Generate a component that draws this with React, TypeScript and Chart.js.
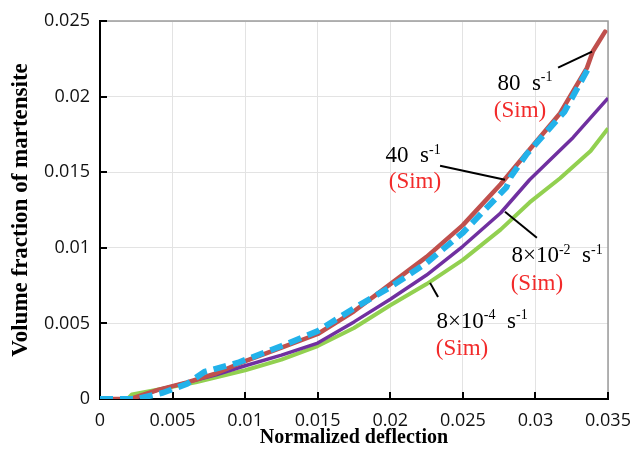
import React, { useEffect, useRef } from "react";
import { Chart, registerables } from "chart.js";

Chart.register(...registerables);

// 80 s^-1 (Sim)
const xRed = [0, 0.0021, 0.004, 0.006, 0.008, 0.01, 0.0125, 0.015, 0.0175, 0.02, 0.0225, 0.025, 0.0276, 0.0296, 0.0317, 0.03355, 0.03396, 0.0348];
const yRed = [0, 0, 0.0006, 0.0011, 0.0017, 0.0025, 0.0034, 0.0043, 0.0058, 0.0076, 0.0094, 0.0115, 0.0142, 0.0165, 0.0189, 0.0219, 0.023, 0.0243];

// 40 s^-1 (Sim)
const xBlue = [0, 0.0025, 0.0043, 0.006, 0.0072, 0.0095, 0.0125, 0.015, 0.0175, 0.02, 0.0225, 0.025, 0.028, 0.0283, 0.0294, 0.032, 0.0336];
const yBlue = [0, 0, 0.0004, 0.001, 0.0018, 0.0024, 0.0035, 0.0045, 0.006, 0.0074, 0.009, 0.011, 0.014, 0.0147, 0.0162, 0.019, 0.0218];

// 8x10^-2 s^-1 (Sim)
const xPurple = [0, 0.0023, 0.004, 0.006, 0.008, 0.01, 0.0125, 0.015, 0.0175, 0.02, 0.0225, 0.025, 0.0276, 0.0296, 0.0326, 0.035];
const yPurple = [0, 0, 0.0006, 0.0011, 0.0016, 0.0022, 0.0029, 0.0037, 0.0051, 0.0066, 0.0082, 0.0101, 0.0123, 0.0145, 0.0173, 0.0199];

// 8x10^-4 s^-1 (Sim)
const xGreen = [0, 0.0019, 0.0022, 0.0066, 0.01, 0.0125, 0.015, 0.0175, 0.02, 0.0225, 0.025, 0.0276, 0.0296, 0.0317, 0.0338, 0.035];
const yGreen = [0, 0, 0.0003, 0.0011, 0.0019, 0.0026, 0.0035, 0.0047, 0.0062, 0.0076, 0.0092, 0.0112, 0.013, 0.0146, 0.0164, 0.0179];

const xTitle = "Normalized deflection";
const yTitle = "Volume fraction of martensite";
const simText = "(Sim)";

type Seg = [string, boolean];
// label text segments (text, superscript?)
const labelTexts: Seg[][] = [
  [["80  s", false], ["-1", true]],
  [["40  s", false], ["-1", true]],
  [["8×10", false], ["-2", true], ["  s", false], ["-1", true]],
  [["8×10", false], ["-4", true], ["  s", false], ["-1", true]],
];
// anchor points in data units: [labelX, labelY, simX, simY]
const labelAnchors = [
  [0.02928, 0.02093, 0.02894, 0.01914],
  [0.02157, 0.01616, 0.0217, 0.01444],
  [0.03149, 0.00954, 0.0301, 0.00768],
  [0.02632, 0.00523, 0.02494, 0.00344],
];
// leader lines in data units: [x1, y1, x2, y2]
const leaders = [
  [0.03156, 0.02192, 0.0339, 0.02298],
  [0.02343, 0.01543, 0.0279, 0.0145],
  [0.0279, 0.01238, 0.0301, 0.01066],
  [0.02274, 0.00768, 0.02329, 0.00675],
];

const zip = (xs: number[], ys: number[]) => xs.map((x, i) => ({ x, y: ys[i] }));

const SERIF = "'Liberation Serif', 'Times New Roman', serif";

function drawRich(ctx: CanvasRenderingContext2D, segs: Seg[], cx: number, cy: number, size: number) {
  const supSize = Math.round(size * 0.62);
  let total = 0;
  const widths = segs.map(([t, sup]) => {
    ctx.font = `${sup ? supSize : size}px ${SERIF}`;
    const w = ctx.measureText(t).width;
    total += w;
    return w;
  });
  let x = cx - total / 2;
  ctx.textBaseline = "alphabetic";
  ctx.textAlign = "left";
  const base = cy + size * 0.33;
  segs.forEach(([t, sup], i) => {
    ctx.font = `${sup ? supSize : size}px ${SERIF}`;
    ctx.fillText(t, x, sup ? base - size * 0.38 : base);
    x += widths[i];
  });
}

const decorPlugin = {
  id: "decor",
  beforeDatasetsDraw(chart: any) {
    const { ctx, chartArea: a, scales } = chart;
    const xs = scales.x;
    const ys = scales.y;
    ctx.save();
    ctx.strokeStyle = "#9c9c9c";
    ctx.lineWidth = 1.5;
    ctx.beginPath();
    ctx.moveTo(a.left, a.top);
    ctx.lineTo(a.right, a.top);
    ctx.lineTo(a.right, a.bottom);
    ctx.stroke();
    ctx.strokeStyle = "#000";
    ctx.lineWidth = 2;
    ctx.beginPath();
    xs.ticks.forEach((t: any) => {
      const px = Math.round(xs.getPixelForValue(t.value));
      ctx.moveTo(px, a.bottom);
      ctx.lineTo(px, a.bottom - 7);
    });
    ys.ticks.forEach((t: any) => {
      const py = Math.round(ys.getPixelForValue(t.value));
      ctx.moveTo(a.left, py);
      ctx.lineTo(a.left + 7, py);
    });
    ctx.stroke();
    ctx.restore();
  },
  afterDatasetsDraw(chart: any) {
    const { ctx, scales } = chart;
    const xs = scales.x;
    const ys = scales.y;
    ctx.save();
    ctx.strokeStyle = "#000";
    ctx.lineWidth = 2;
    leaders.forEach(([x1, y1, x2, y2]) => {
      ctx.beginPath();
      ctx.moveTo(xs.getPixelForValue(x1), ys.getPixelForValue(y1));
      ctx.lineTo(xs.getPixelForValue(x2), ys.getPixelForValue(y2));
      ctx.stroke();
    });
    labelTexts.forEach((segs, i) => {
      const [lx, ly, sx, sy] = labelAnchors[i];
      ctx.fillStyle = "#000";
      drawRich(ctx, segs, xs.getPixelForValue(lx), ys.getPixelForValue(ly), 23);
      ctx.fillStyle = "#f22a2a";
      drawRich(ctx, [[simText, false]], xs.getPixelForValue(sx), ys.getPixelForValue(sy), 23);
    });
    ctx.restore();
  },
};

export default function App() {
  const ref = useRef<HTMLCanvasElement | null>(null);
  useEffect(() => {
    if (!ref.current) return;
    const fmt = (v: any) => Number(Number(v).toFixed(3)).toString();
    const chart = new Chart(ref.current, {
      type: "line",
      data: {
        datasets: [
          {
            label: "40 s-1",
            data: zip(xBlue, yBlue),
            borderColor: "#22b2ea",
            borderWidth: 6,
            borderDash: [13, 7],
            pointRadius: 0,
            tension: 0,
            order: 0,
          },
          {
            label: "80 s-1",
            data: zip(xRed, yRed),
            borderColor: "#c0504d",
            borderWidth: 4.5,
            borderJoinStyle: "round",
            borderCapStyle: "round",
            pointRadius: 0,
            tension: 0,
            order: 1,
          },
          {
            label: "8x10-2 s-1",
            data: zip(xPurple, yPurple),
            borderColor: "#7030a0",
            borderWidth: 3.5,
            borderJoinStyle: "round",
            pointRadius: 0,
            tension: 0,
            order: 2,
          },
          {
            label: "8x10-4 s-1",
            data: zip(xGreen, yGreen),
            borderColor: "#92d050",
            borderWidth: 4,
            borderJoinStyle: "round",
            pointRadius: 0,
            tension: 0,
            order: 3,
          },
        ] as any,
      },
      options: {
        animation: false,
        responsive: false,
        layout: { padding: { top: 21, right: 25, left: 0, bottom: 0 } },
        plugins: { legend: { display: false }, tooltip: { enabled: false } },
        scales: {
          x: {
            type: "linear",
            min: 0,
            max: 0.035,
            ticks: {
              stepSize: 0.005,
              callback: fmt,
              color: "#111",
              padding: 11,
              maxRotation: 0,
              font: { family: "'Open Sans', sans-serif", size: 18 },
            },
            grid: { color: "#e3e3e3", lineWidth: 1, drawTicks: false },
            border: { display: true, color: "#000", width: 2 },
            title: {
              display: true,
              text: xTitle,
              color: "#000",
              font: { family: SERIF, size: 20, weight: "bold" },
              padding: { top: 0, bottom: 8 },
            },
            afterFit: (s: any) => {
              s.height = 59;
              s.paddingLeft = 0;
              s.paddingRight = 0;
            },
          },
          y: {
            type: "linear",
            min: 0,
            max: 0.025,
            ticks: {
              stepSize: 0.005,
              callback: fmt,
              color: "#111",
              padding: 10,
              font: { family: "'Open Sans', sans-serif", size: 18 },
            },
            grid: { color: "#e3e3e3", lineWidth: 1, drawTicks: false },
            border: { display: true, color: "#000", width: 2 },
            title: {
              display: true,
              text: yTitle,
              color: "#000",
              font: { family: SERIF, size: 23, weight: "bold" },
              padding: { top: 7, bottom: 0 },
            },
            afterFit: (s: any) => {
              s.width = 100;
              s.paddingTop = 0;
              s.paddingBottom = 0;
            },
          },
        },
      } as any,
      plugins: [decorPlugin],
    });
    return () => chart.destroy();
  }, []);
  return (
    <div style={{ position: "fixed", left: 0, top: 0, width: 633, height: 458, background: "#fff" }}>
      <canvas ref={ref} width={633} height={458} style={{ display: "block" }} />
    </div>
  );
}
